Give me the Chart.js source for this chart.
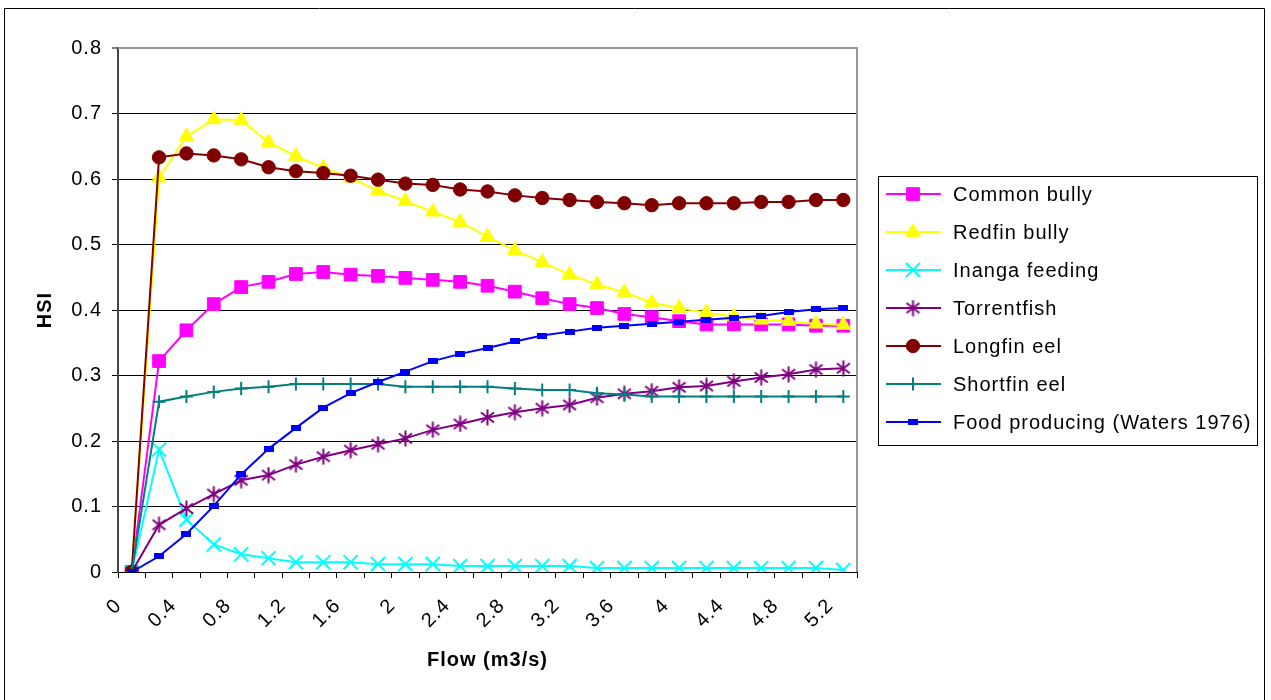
<!DOCTYPE html>
<html>
<head>
<meta charset="utf-8">
<script src="https://cdn.jsdelivr.net/npm/chart.js@4/dist/chart.umd.min.js"></script>
<style>
html, body { margin: 0; padding: 0; background: #fff; }
canvas { display: block; }
</style>
</head>
<body>
<canvas id="hsi" width="1271" height="700"></canvas>
<script>
// Flow categories (m3/s)
const flows = ['0', '0.2', '0.4', '0.6', '0.8', '1', '1.2', '1.4', '1.6', '1.8', '2', '2.2', '2.4', '2.6',
  '2.8', '3', '3.2', '3.4', '3.6', '3.8', '4', '4.2', '4.4', '4.6', '4.8', '5', '5.2'];

// Habitat suitability index per species
const commonBully = [0, 0.322, 0.369, 0.409, 0.435, 0.443, 0.455, 0.458, 0.454, 0.452, 0.449, 0.446, 0.443, 0.437,
  0.428, 0.418, 0.409, 0.403, 0.394, 0.389, 0.383, 0.378, 0.378, 0.378, 0.378, 0.376, 0.376];
const redfinBully = [0, 0.602, 0.665, 0.691, 0.690, 0.656, 0.635, 0.617, 0.602, 0.582, 0.566, 0.550, 0.534, 0.512,
  0.491, 0.473, 0.454, 0.439, 0.427, 0.411, 0.403, 0.396, 0.390, 0.385, 0.383, 0.379, 0.377];
const inangaFeeding = [0, 0.187, 0.080, 0.042, 0.027, 0.021, 0.015, 0.015, 0.015, 0.012, 0.012, 0.012, 0.009, 0.009,
  0.009, 0.009, 0.009, 0.006, 0.006, 0.006, 0.006, 0.006, 0.006, 0.006, 0.006, 0.006, 0.003];
const torrentfish = [0, 0.072, 0.097, 0.119, 0.140, 0.148, 0.164, 0.176, 0.186, 0.195, 0.204, 0.217, 0.226, 0.236,
  0.244, 0.250, 0.255, 0.266, 0.272, 0.276, 0.282, 0.284, 0.291, 0.297, 0.302, 0.309, 0.311];
const longfinEel = [0, 0.633, 0.639, 0.636, 0.630, 0.618, 0.612, 0.609, 0.605, 0.599, 0.593, 0.591, 0.584, 0.581,
  0.575, 0.571, 0.568, 0.565, 0.563, 0.560, 0.563, 0.563, 0.563, 0.565, 0.565, 0.568, 0.568];
const shortfinEel = [0, 0.260, 0.268, 0.275, 0.280, 0.283, 0.287, 0.287, 0.287, 0.287, 0.283, 0.283, 0.283, 0.283,
  0.280, 0.278, 0.278, 0.273, 0.271, 0.268, 0.268, 0.268, 0.268, 0.268, 0.268, 0.268, 0.268];
const foodProducing = [0, 0.024, 0.058, 0.101, 0.149, 0.188, 0.220, 0.251, 0.273, 0.290, 0.306, 0.322, 0.333, 0.342,
  0.352, 0.361, 0.367, 0.373, 0.376, 0.379, 0.382, 0.385, 0.388, 0.391, 0.397, 0.401, 0.403];

const seriesNames = ['Common bully', 'Redfin bully', 'Inanga feeding', 'Torrentfish', 'Longfin eel',
  'Shortfin eel', 'Food producing (Waters 1976)'];

const FONT = '"Liberation Sans", Arial, sans-serif';
const LETTER_SPACING = '1px';

// Asterisk marker: vertical bar plus a diagonal cross
function asteriskMarker(color) {
  const c = document.createElement('canvas');
  c.width = 17; c.height = 17;
  const g = c.getContext('2d');
  g.strokeStyle = color;
  g.lineWidth = 2;
  g.beginPath();
  g.moveTo(8.5, 0.5); g.lineTo(8.5, 16.5);
  g.moveTo(2, 3.5); g.lineTo(15, 13.5);
  g.moveTo(2, 13.5); g.lineTo(15, 3.5);
  g.stroke();
  return c;
}

// Small flat rectangle marker
function barMarker(color) {
  const c = document.createElement('canvas');
  c.width = 10; c.height = 6;
  const g = c.getContext('2d');
  g.fillStyle = color;
  g.fillRect(0, 0, 10, 6);
  return c;
}

const styles = [
  { color: '#FF00FF', pointStyle: 'rect', radius: 9 },
  { color: '#FFFF00', pointStyle: 'triangle', radius: 8.5 },
  { color: '#00FFFF', pointStyle: 'crossRot', radius: 10 },
  { color: '#800080', pointStyle: asteriskMarker('#800080'), radius: 8 },
  { color: '#800000', pointStyle: 'circle', radius: 6.7 },
  { color: '#008080', pointStyle: 'cross', radius: 6.5 },
  { color: '#0000FF', pointStyle: barMarker('#0000FF'), radius: 5 }
];

const seriesValues = [commonBully, redfinBully, inangaFeeding, torrentfish, longfinEel, shortfinEel, foodProducing];

const datasets = seriesValues.map((vals, i) => ({
  label: seriesNames[i],
  data: vals,
  borderColor: styles[i].color,
  backgroundColor: styles[i].color,
  borderWidth: 2,
  pointStyle: styles[i].pointStyle,
  pointRadius: styles[i].radius,
  pointHoverRadius: styles[i].radius,
  pointBorderWidth: (styles[i].pointStyle === 'cross' || styles[i].pointStyle === 'crossRot') ? 2 : 1,
  pointBorderColor: styles[i].color,
  pointBackgroundColor: styles[i].color,
  tension: 0,
  fill: false,
  order: seriesValues.length - i
}));

// Slightly open text spacing for all labels
const spacingPlugin = {
  id: 'spacing',
  beforeLayout(chart) { chart.ctx.letterSpacing = LETTER_SPACING; },
  beforeDraw(chart) { chart.ctx.letterSpacing = LETTER_SPACING; }
};

// Outer frame, plot-area border and boxed legend
const framePlugin = {
  id: 'frame',
  beforeDatasetsDraw(chart) {
    const { ctx, chartArea: a } = chart;
    ctx.save();
    ctx.strokeStyle = '#999999';
    ctx.lineWidth = 2;
    ctx.beginPath();
    ctx.moveTo(a.left, a.top);
    ctx.lineTo(a.right, a.top);
    ctx.lineTo(a.right, a.bottom);
    ctx.stroke();
    ctx.restore();
  },
  afterDraw(chart) {
    const { ctx } = chart;
    ctx.save();
    // outer frame
    ctx.strokeStyle = '#000';
    ctx.lineWidth = 1;
    ctx.beginPath();
    ctx.moveTo(4.5, 700);
    ctx.lineTo(4.5, 8.5);
    ctx.lineTo(1264.5, 8.5);
    ctx.lineTo(1264.5, 700);
    ctx.stroke();

    // legend box
    const bx = 878.5, by = 176.5, bw = 379, bh = 269;
    ctx.fillStyle = '#fff';
    ctx.fillRect(bx, by, bw, bh);
    ctx.strokeRect(bx, by, bw, bh);

    chart.data.datasets.forEach((ds, i) => {
      const y = 194 + i * 38;
      ctx.strokeStyle = ds.borderColor;
      ctx.lineWidth = 2;
      ctx.beginPath();
      ctx.moveTo(886, y);
      ctx.lineTo(941, y);
      ctx.stroke();
      ctx.fillStyle = ds.pointBackgroundColor;
      ctx.strokeStyle = ds.pointBorderColor;
      ctx.lineWidth = ds.pointBorderWidth;
      Chart.helpers.drawPoint(ctx, {
        pointStyle: ds.pointStyle,
        radius: ds.pointRadius,
        rotation: 0,
        borderWidth: ds.pointBorderWidth
      }, 913, y);
      ctx.fillStyle = '#000';
      ctx.font = '20px ' + FONT;
      ctx.letterSpacing = LETTER_SPACING;
      ctx.textAlign = 'left';
      ctx.textBaseline = 'middle';
      ctx.fillText(ds.label, 953, y + 1);
    });
    ctx.restore();
  }
};

new Chart(document.getElementById('hsi'), {
  type: 'line',
  data: { labels: flows, datasets },
  plugins: [spacingPlugin, framePlugin],
  options: {
    responsive: false,
    animation: false,
    devicePixelRatio: 1,
    layout: { padding: { top: 48, right: 414, left: 0, bottom: 0 } },
    plugins: {
      legend: { display: false },
      tooltip: { enabled: false },
      title: { display: false }
    },
    scales: {
      x: {
        type: 'category',
        offset: true,
        afterFit(axis) { axis.height = 128; },
        grid: {
          offset: true,
          drawOnChartArea: false,
          drawTicks: true,
          tickLength: 6,
          tickColor: '#000',
          tickWidth: 1
        },
        border: { color: '#000', width: 1 },
        ticks: {
          autoSkip: false,
          minRotation: 45,
          maxRotation: 45,
          padding: 16,
          labelOffset: -13,
          color: '#000',
          font: { family: FONT, size: 20 },
          callback(value, index) { return index % 2 === 0 ? flows[index] : ''; }
        },
        title: {
          display: true,
          text: 'Flow (m3/s)',
          color: '#000',
          font: { family: FONT, size: 20, weight: 'bold' },
          padding: { top: 0, bottom: 28 }
        }
      },
      y: {
        min: 0,
        max: 0.8,
        afterFit(axis) { axis.width = 118; },
        grid: {
          color(ctx) { return Math.abs(ctx.tick.value - 0.8) < 1e-6 ? '#999999' : '#000'; },
          lineWidth(ctx) { return Math.abs(ctx.tick.value - 0.8) < 1e-6 ? 2 : 1; },
          tickColor: '#000',
          tickLength: 6,
          tickWidth: 1
        },
        border: { color: '#444', width: 2 },
        ticks: {
          stepSize: 0.1,
          padding: 10,
          color: '#000',
          font: { family: FONT, size: 20 },
          callback(v) { return String(Math.round(v * 10) / 10); }
        },
        title: {
          display: true,
          text: 'HSI',
          color: '#000',
          font: { family: FONT, size: 20, weight: 'bold' },
          padding: { top: 33, bottom: 0 }
        }
      }
    }
  }
});
</script>
</body>
</html>
